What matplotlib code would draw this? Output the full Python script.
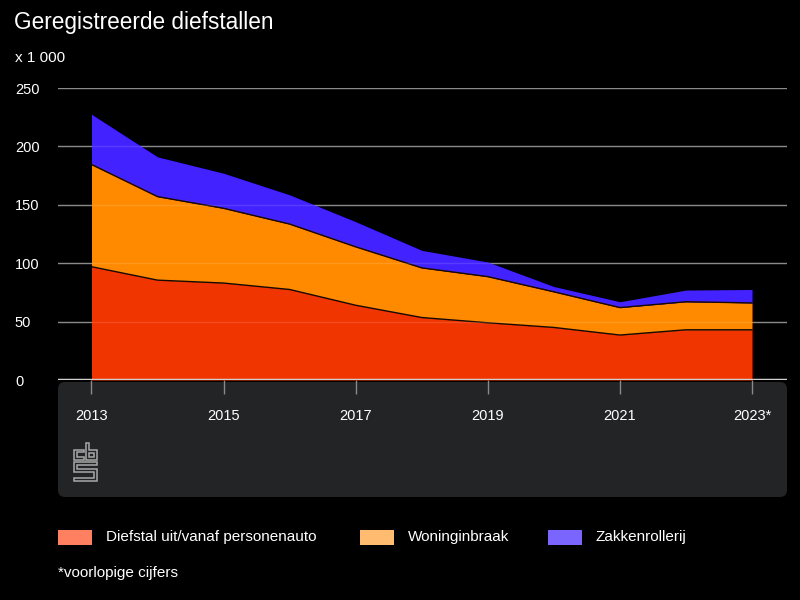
import numpy as np
import matplotlib.pyplot as plt
from matplotlib.patches import FancyBboxPatch, Rectangle, Polygon

plt.rcParams['font.family'] = ['Liberation Sans', 'DejaVu Sans']

years = [2013, 2014, 2015, 2016, 2017, 2018, 2019, 2020, 2021, 2022, 2023]
tick_years = [2013, 2015, 2017, 2019, 2021, 2023]
tick_labels = ['2013', '2015', '2017', '2019', '2021', '2023*']
series_names = ['Diefstal uit/vanaf personenauto', 'Woninginbraak', 'Zakkenrollerij']
auto = [97, 85.5, 83, 77.5, 64, 53.5, 49, 45, 38.5, 43, 43]
woning = [87.5, 71.5, 64, 56, 50, 42.5, 39.5, 30.5, 23.5, 24, 23]
zakken = [43, 34, 30, 25, 21.5, 15, 12.5, 4.5, 5, 10, 11.5]
y_ticks = [0, 50, 100, 150, 200, 250]

fill_colors = ['#f03500', '#ff8a00', '#4222ff']
legend_colors = ['#ff8060', '#ffbb70', '#7a66ff']

W, H = 800, 600
fig = plt.figure(figsize=(8, 6), dpi=100, facecolor='black')

def fx(px):
    return px / W

def fy(py):
    return 1 - py / H

# background layer: dark panel under the x axis
bg = fig.add_axes([0, 0, 1, 1], zorder=-1)
bg.set_xlim(0, W)
bg.set_ylim(H, 0)
bg.axis('off')
bg.add_patch(FancyBboxPatch((58, 382), 729, 115,
                            boxstyle='round,pad=0,rounding_size=7',
                            facecolor='#232425', edgecolor='none'))

ax = fig.add_axes([fx(58), fy(380), fx(787) - fx(58), fy(88) - fy(380)], zorder=1)
ax.set_facecolor('none')
ax.set_xlim(2012.493, 2023.53)
ax.set_ylim(0, 250)

x = np.array(years)
b1 = np.array(auto)
b2 = b1 + np.array(woning)
b3 = b2 + np.array(zakken)

for v in y_ticks[1:]:
    ax.axhline(v, color='#7a7a7a', lw=1.0, zorder=1)

ax.fill_between(x, 0, b1, color=fill_colors[0], lw=0, zorder=2)
ax.fill_between(x, b1, b2, color=fill_colors[1], lw=0, zorder=2)
ax.fill_between(x, b2, b3, color=fill_colors[2], lw=0, zorder=2)
ax.plot(x, b1, color='#1a0800', lw=1.0, zorder=3)
ax.plot(x, b2, color='#1a0800', lw=1.0, zorder=3)

# faint grid over the fills
for v in y_ticks[1:]:
    ax.axhline(v, color='white', lw=1.0, alpha=0.12, zorder=4)

ax.axhline(0, color='#d0d0d0', lw=2.5, zorder=5)

for s in ax.spines.values():
    s.set_visible(False)

ax.set_yticks(y_ticks)
ax.set_yticklabels([str(v) for v in y_ticks])
ax.tick_params(axis='y', length=0, pad=31, labelsize=10.5, labelcolor='white')
for lbl in ax.get_yticklabels():
    lbl.set_horizontalalignment('left')

ax.set_xticks(tick_years)
ax.set_xticklabels(tick_labels)
ax.tick_params(axis='x', direction='out', length=10, width=1, color='#8a8a8a',
               pad=11, labelsize=10.5, labelcolor='white')

fig.text(fx(14), fy(22), 'Geregistreerde diefstallen', color='white',
         fontsize=16.3, va='center', ha='left')
fig.text(fx(15), fy(58), 'x 1 000', color='white', fontsize=11,
         va='center', ha='left')

# cbs logo, outlined letters (pixel units, y downward)
lg = fig.add_axes([fx(73), fy(482), fx(98) - fx(73), fy(442) - fy(482)], zorder=2)
lg.set_xlim(-1, 26)
lg.set_ylim(41, -1)
lg.axis('off')
lc = '#a8a8a8'
c_shape = [(11, 7), (0, 7), (0, 18), (11, 18), (11, 15), (3.5, 15), (3.5, 10), (11, 10)]
b_shape = [(13, 0), (16.5, 0), (16.5, 7), (25, 7), (25, 18), (13, 18)]
b_hole = [(16.5, 10.5), (21.5, 10.5), (21.5, 14.5), (16.5, 14.5)]
s_shape = [(0, 20), (25, 20), (25, 23.5), (3.5, 23.5), (3.5, 27), (25, 27), (25, 40),
           (0, 40), (0, 36.5), (21.5, 36.5), (21.5, 30.5), (0, 30.5)]
for shp in [c_shape, b_shape, b_hole, s_shape]:
    lg.add_patch(Polygon(shp, closed=True, facecolor='none', edgecolor=lc, lw=1.1))

# legend
leg_x = [58, 360, 548]
for i in range(3):
    bg.add_patch(Rectangle((leg_x[i], 530), 34, 15,
                           facecolor=legend_colors[i], edgecolor='none'))
    fig.text(fx(leg_x[i] + 48), fy(537), series_names[i], color='white',
             fontsize=11, va='center', ha='left')

fig.text(fx(58), fy(573), '*voorlopige cijfers', color='white', fontsize=11,
         va='center', ha='left')

fig.savefig('out.png', dpi=100, facecolor='black')
